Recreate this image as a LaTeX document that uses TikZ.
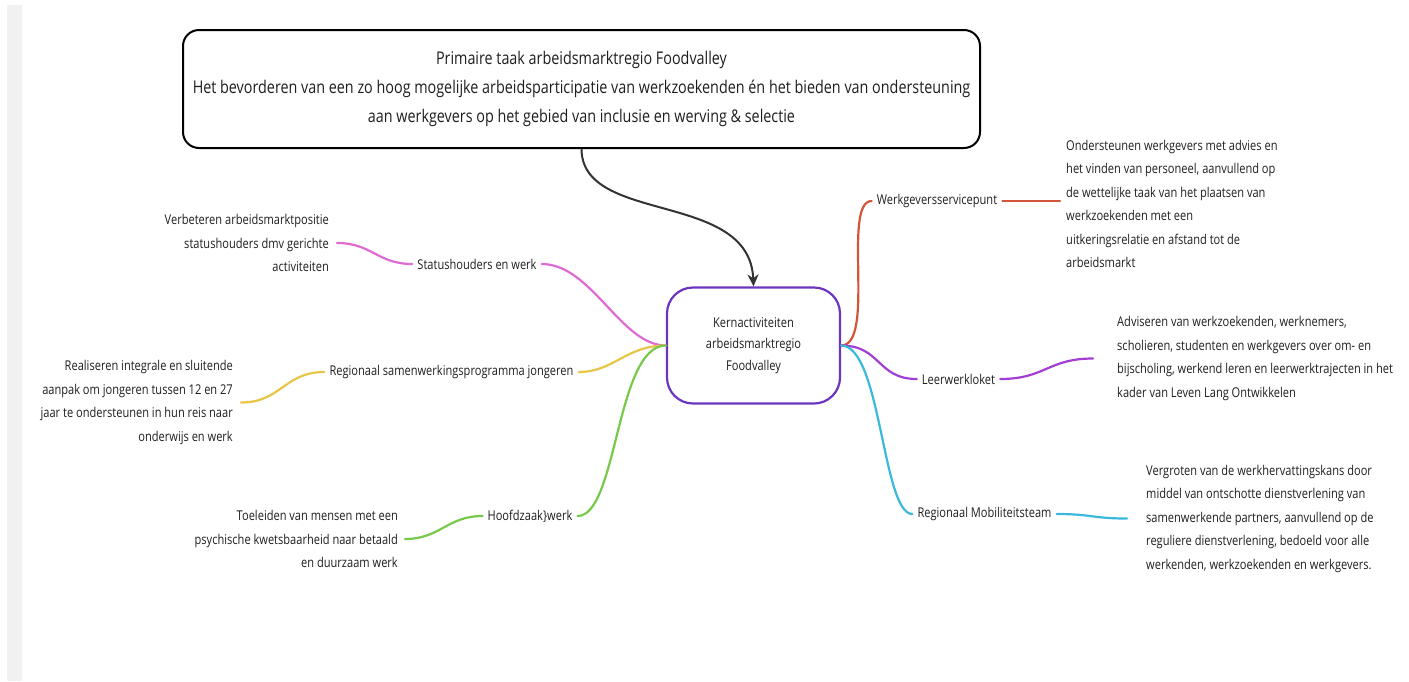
\documentclass[tikz,border=0pt]{standalone}
\usepackage{fontspec}
\setmainfont{Open Sans}[FakeStretch=0.82]
\usetikzlibrary{arrows.meta}
\definecolor{cpink}{HTML}{E06AD4}
\definecolor{cyel}{HTML}{E8C547}
\definecolor{cgreen}{HTML}{77C94A}
\definecolor{cred}{HTML}{D2553A}
\definecolor{cpurp}{HTML}{A23ED6}
\definecolor{ccyan}{HTML}{3BB9DC}
\definecolor{cborder}{HTML}{6C35C0}
\definecolor{stripgray}{HTML}{F1F1F1}
\definecolor{txt}{HTML}{1E1E1E}
\begin{document}
\begin{tikzpicture}[x=1pt,y=-1pt,
  lbl/.style={font=\fontsize{13.5}{16}\selectfont, inner sep=5pt, text=txt},
  descr/.style={font=\fontsize{13.5}{23.5}\selectfont, inner sep=0pt, text=txt},
  descl/.style={descr, align=left, anchor=west},
  descrr/.style={descr, align=right, anchor=east},
  br/.style={line width=2.2pt, line cap=round},
]
\useasboundingbox (0,0) rectangle (1409,681);
\fill[stripgray] (7,5) rectangle (22,681);

% top box
\node[draw=black, line width=2pt, rounded corners=16pt, minimum width=797pt, minimum height=118pt,
  align=center, font=\fontsize{17.5}{29}\selectfont, text=txt] (top) at (581.5,89)
  {Primaire taak arbeidsmarktregio Foodvalley\\
   Het bevorderen van een zo hoog mogelijke arbeidsparticipatie van werkzoekenden én het bieden van ondersteuning\\
   aan werkgevers op het gebied van inclusie en werving \& selectie};

% center node
\node[draw=cborder, line width=2.2pt, rounded corners=26pt, minimum width=173pt, minimum height=116pt,
  align=center, font=\fontsize{13.5}{21.5}\selectfont, text=txt] (C) at (753.5,345.5)
  {Kernactiviteiten\\arbeidsmarktregio\\Foodvalley};

\draw[line width=2pt, draw=black!80, -{Stealth[length=12pt,width=11pt]}]
  (top.south) .. controls (582,225) and (750,190) .. (C.north);

% left labels
\node[lbl] (stat) at (477,264) {Statushouders en werk};
\node[lbl] (rsp) at (451.5,372) {Regionaal samenwerkingsprogramma jongeren};
\node[lbl] (hzw) at (530,516) {Hoofdzaak\}werk};

\node[descrr] (statd) at (329,243) {Verbeteren arbeidsmarktpositie\\statushouders dmv gerichte\\activiteiten};
\node[descrr] (rspd) at (233,402.5) {Realiseren integrale en sluitende\\aanpak om jongeren tussen 12 en 27\\jaar te ondersteunen in hun reis naar\\onderwijs en werk};
\node[descrr] (hzwd) at (398,539) {Toeleiden van mensen met een\\psychische kwetsbaarheid naar betaald\\en duurzaam werk};

% right labels
\node[lbl] (wsp) at (937,201) {Werkgeversservicepunt};
\node[lbl] (lwk) at (958.5,379) {Leerwerkloket};
\node[lbl] (rmt) at (984.5,514) {Regionaal Mobiliteitsteam};

\node[descl] (wspd) at (1066,204) {Ondersteunen werkgevers met advies en\\het vinden van personeel, aanvullend op\\de wettelijke taak van het plaatsen van\\werkzoekenden met een\\uitkeringsrelatie en afstand tot de\\arbeidsmarkt};
\node[descl] (lwkd) at (1117,358.5) {Adviseren van werkzoekenden, werknemers,\\scholieren, studenten en werkgevers over om- en\\bijscholing, werkend leren en leerwerktrajecten in het\\kader van Leven Lang Ontwikkelen};
\node[descl] (rmtd) at (1146,518.5) {Vergroten van de werkhervattingskans door\\middel van ontschotte dienstverlening van\\samenwerkende partners, aanvullend op de\\reguliere dienstverlening, bedoeld voor alle\\werkenden, werkzoekenden en werkgevers.};

% left connectors
\draw[br, cpink] (C.west) .. controls +(-45,0) and +(50,0) .. (stat.east);
\draw[br, cpink] (stat.west) .. controls +(-35,0) and +(35,0) .. ([xshift=8pt]statd.east);
\draw[br, cyel] (C.west) .. controls +(-40,0) and +(35,0) .. (rsp.east);
\draw[br, cyel] (rsp.west) .. controls +(-40,0) and +(40,0) .. ([xshift=8pt]rspd.east);
\draw[br, cgreen] (C.west) .. controls +(-50,0) and +(40,0) .. (hzw.east);
\draw[br, cgreen] (hzw.west) .. controls +(-35,0) and +(35,0) .. ([xshift=7pt]hzwd.east);

% right connectors
\draw[br, cred] (C.east) .. controls +(35,0) and +(-30,0) .. (wsp.west);
\draw[br, cred] (wsp.east) -- ([xshift=-6pt]wspd.west |- wsp.east);
\draw[br, cpurp] (C.east) .. controls +(40,0) and +(-40,0) .. (lwk.west);
\draw[br, cpurp] (lwk.east) .. controls +(45,0) and +(-45,0) .. ([xshift=-24pt]lwkd.west);
\draw[br, ccyan] (C.east) .. controls +(40,0) and +(-30,0) .. (rmt.west);
\draw[br, ccyan] (rmt.east) .. controls +(35,0) and +(-35,0) .. ([xshift=-19pt]rmtd.west);
\end{tikzpicture}
\end{document}
